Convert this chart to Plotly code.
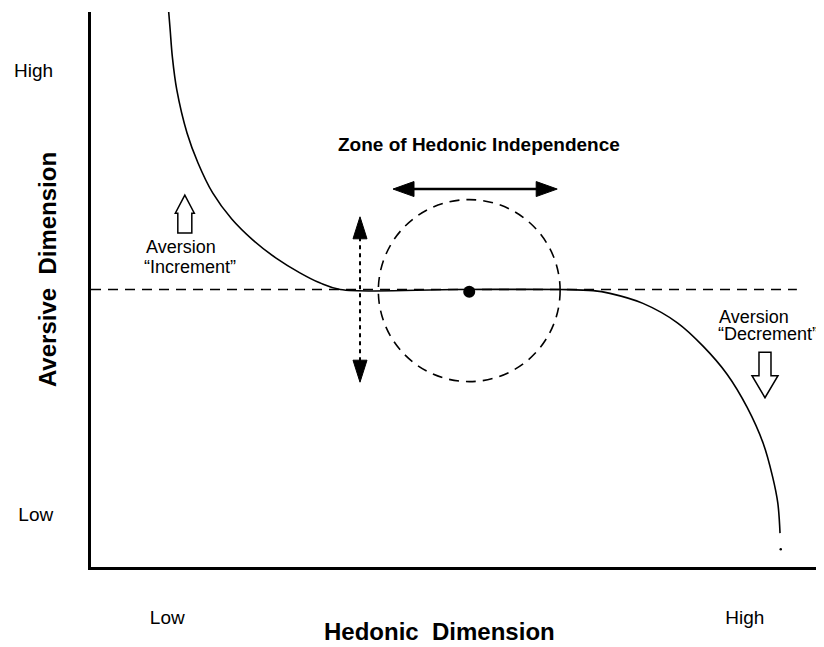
import plotly.graph_objects as go

# ---------------- data (conceptual units 0-100 on both dimensions) ----------------
hedonic = [10.6, 10.8, 11.1, 11.7, 13.1, 14.6, 16.6, 19.2, 22.1, 25.2, 28.5, 31.2, 34.0,
           50.0, 64.0, 68.5, 70.8, 75.3, 80.0, 83.5, 86.8, 89.5, 91.7, 93.0, 93.7, 94.0]
aversive = [100.0, 96.8, 91.9, 86.0, 78.2, 72.8, 67.4, 62.7, 58.9, 55.7, 53.0, 51.2, 50.0,
            50.0, 50.0, 49.8, 49.3, 47.5, 44.0, 39.8, 34.7, 28.8, 22.3, 16.2, 11.5, 6.1]
end_speck = (94.1, 3.2)

neutral_level = 50.0
neutral_x = [0.0, 96.3]

zone_center = (51.6, 49.6)
zone_x = [39.2, 64.0]
zone_y = [33.4, 66.2]

hedonic_arrow_x = [41.2, 63.6]
hedonic_arrow_y = 68.1
aversive_arrow_x = 36.7
aversive_arrow_y = [33.3, 63.1]

increment_arrow = (12.8, 60.2, 67.0)   # x, tail y, tip y
decrement_arrow = (91.95, 38.7, 30.5)

y_tick_vals = [9.4, 89.5]
y_tick_text = ["Low", "High"]
x_tick_vals = [10.4, 89.2]
x_tick_text = ["Low", "High"]

title_text = "Zone of Hedonic Independence"
x_title = "Hedonic\u00a0\u00a0Dimension"
y_title = "Aversive\u00a0\u00a0Dimension"

# ---------------- layout geometry (page body adds an 8px offset) ----------------
W, H = 816, 639
ML, MR, MT, MB = 83, 0, 4, 80
PW, PH = W - ML - MR, H - MT - MB
XR, YR = [0, 100], [0, 100]


def dx(px):
    return px * (XR[1] - XR[0]) / PW


def dy(px):
    return px * (YR[1] - YR[0]) / PH


FONT = "Liberation Sans, Arial, Helvetica, sans-serif"

fig = go.Figure()

# neutral dashed line
fig.add_trace(go.Scatter(x=neutral_x, y=[neutral_level, neutral_level], mode="lines",
                         line=dict(color="black", width=1.5, dash="10px,7px"),
                         hoverinfo="skip", showlegend=False))
# main curve
fig.add_trace(go.Scatter(x=hedonic, y=aversive, mode="lines",
                         line=dict(color="black", width=1.6, shape="spline", smoothing=1.0),
                         hoverinfo="skip", showlegend=False))
fig.add_trace(go.Scatter(x=[end_speck[0]], y=[end_speck[1]], mode="markers",
                         marker=dict(color="black", size=2.5), hoverinfo="skip", showlegend=False))
# zone center
fig.add_trace(go.Scatter(x=[zone_center[0]], y=[zone_center[1]], mode="markers",
                         marker=dict(color="black", size=12), hoverinfo="skip", showlegend=False))
# vertical dashed arrow shaft
va_head = dy(21)
fig.add_trace(go.Scatter(x=[aversive_arrow_x, aversive_arrow_x],
                         y=[aversive_arrow_y[0] + va_head, aversive_arrow_y[1] - va_head],
                         mode="lines", line=dict(color="black", width=2, dash="4px,4px"),
                         hoverinfo="skip", showlegend=False))
# horizontal arrow shaft
ha_head = dx(21)
fig.add_trace(go.Scatter(x=[hedonic_arrow_x[0] + ha_head * 0.8, hedonic_arrow_x[1] - ha_head * 0.8],
                         y=[hedonic_arrow_y, hedonic_arrow_y], mode="lines",
                         line=dict(color="black", width=2.6),
                         hoverinfo="skip", showlegend=False))

shapes = []
# dashed zone circle
shapes.append(dict(type="circle", xref="x", yref="y", x0=zone_x[0], x1=zone_x[1],
                   y0=zone_y[0], y1=zone_y[1],
                   line=dict(color="black", width=1.6, dash="10px,7px")))


def tri_h(tip_x, y, direction, length_px=21, half_w_px=7.5):
    bx = tip_x - direction * dx(length_px)
    hw = dy(half_w_px)
    return f"M {tip_x},{y} L {bx},{y + hw} L {bx},{y - hw} Z"


def tri_v(x, tip_y, direction, length_px=22, half_w_px=7):
    by = tip_y - direction * dy(length_px)
    hw = dx(half_w_px)
    return f"M {x},{tip_y} L {x + hw},{by} L {x - hw},{by} Z"


for p in [tri_h(hedonic_arrow_x[0], hedonic_arrow_y, -1), tri_h(hedonic_arrow_x[1], hedonic_arrow_y, 1),
          tri_v(aversive_arrow_x, aversive_arrow_y[1], 1), tri_v(aversive_arrow_x, aversive_arrow_y[0], -1)]:
    shapes.append(dict(type="path", xref="x", yref="y", path=p, fillcolor="black",
                       line=dict(color="black", width=1)))


def block_arrow(xc, y_tail, y_tip, shaft_hw_px, head_hw_px, head_len_px):
    d = 1 if y_tip > y_tail else -1
    yb = y_tip - d * dy(head_len_px)
    sw, hw = dx(shaft_hw_px), dx(head_hw_px)
    return (f"M {xc - sw},{y_tail} L {xc - sw},{yb} L {xc - hw},{yb} L {xc},{y_tip} "
            f"L {xc + hw},{yb} L {xc + sw},{yb} L {xc + sw},{y_tail} Z")


shapes.append(dict(type="path", xref="x", yref="y",
                   path=block_arrow(increment_arrow[0], increment_arrow[1], increment_arrow[2], 7, 9.5, 18),
                   fillcolor="white", line=dict(color="black", width=1.5)))
shapes.append(dict(type="path", xref="x", yref="y",
                   path=block_arrow(decrement_arrow[0], decrement_arrow[1], decrement_arrow[2], 6, 13, 22),
                   fillcolor="white", line=dict(color="black", width=1.5)))

annotations = []


def label(text, x, y, size=18, bold=False, xanchor="left", angle=0, ref="x"):
    xr, yr = ("x", "y") if ref == "x" else ("paper", "paper")
    annotations.append(dict(text=text, x=x, y=y, xref=xr, yref=yr, showarrow=False,
                            xanchor=xanchor, yanchor="middle", textangle=angle,
                            font=dict(family=FONT, size=size, color="black",
                                      weight="bold" if bold else "normal")))


label("Aversion", 7.2, 57.6)
label("\u201cIncrement\u201d", 6.96, 54.0)
label("Aversion", 85.4, 45.0)
label("\u201cDecrement\u201d", 85.3, 41.9)
label(title_text, 53.0, 76.2, size=19, bold=True, xanchor="center")
label(x_title, 0.4754, -0.117, size=24, bold=True, xanchor="center", ref="paper")
label(y_title, -0.060, 0.535, size=24, bold=True, xanchor="center", angle=-90, ref="paper")

fig.update_layout(
    width=W, height=H,
    margin=dict(l=ML, r=MR, t=MT, b=MB, pad=0),
    paper_bgcolor="white", plot_bgcolor="white",
    showlegend=False,
    shapes=shapes, annotations=annotations,
    font=dict(family=FONT, size=18, color="black"),
)
fig.update_xaxes(range=XR, showgrid=False, zeroline=False, showline=True, linecolor="black",
                 linewidth=3, ticks="", tickvals=x_tick_vals, ticktext=x_tick_text,
                 ticklabelstandoff=31, tickfont=dict(family=FONT, size=19, color="black"),
                 fixedrange=True)
fig.update_yaxes(range=YR, showgrid=False, zeroline=False, showline=True, linecolor="black",
                 linewidth=3, ticks="", tickvals=y_tick_vals, ticktext=y_tick_text,
                 ticklabelstandoff=31, tickfont=dict(family=FONT, size=19, color="black"),
                 fixedrange=True)

fig.write_html("out.html", config={"displayModeBar": False})
